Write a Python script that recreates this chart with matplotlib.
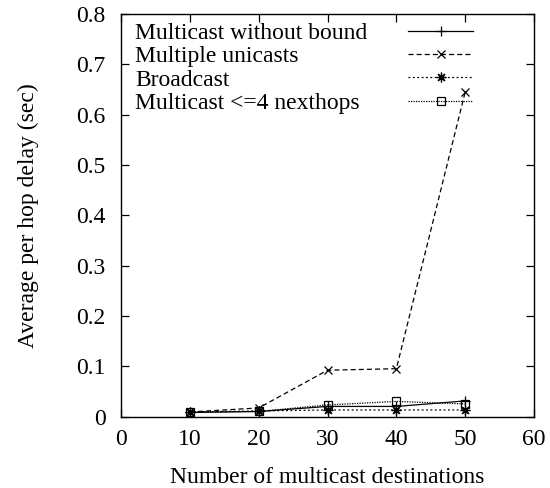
import matplotlib.pyplot as plt
from matplotlib.lines import Line2D

plt.rcParams["font.family"] = ["Liberation Serif", "DejaVu Serif"]
plt.rcParams["font.size"] = 17

# Average per hop delay vs. number of multicast destinations
destinations = [10, 20, 30, 40, 50]
multicast_no_bound = [0.008, 0.010, 0.020, 0.020, 0.031]
multiple_unicasts = [0.009, 0.017, 0.092, 0.095, 0.645]
broadcast = [0.009, 0.011, 0.013, 0.013, 0.013]
multicast_4_nexthops = [0.009, 0.010, 0.023, 0.030, 0.025]

labels = ["Multicast without bound", "Multiple unicasts", "Broadcast",
          "Multicast <=4 nexthops"]

fig = plt.figure(figsize=(5.5, 4.88), dpi=100)
ax = fig.add_axes([0.22, 0.1465, 0.751, 0.825])

lw = 0.9
styles = [
    dict(ls="-", marker="+", ms=7),
    dict(ls=(0, (4, 2.5)), marker="x", ms=6),
    dict(ls=(0, (1.5, 2)), marker=(8, 2, 0), ms=7),
    dict(ls=(0, (1, 1)), marker="s", ms=6, fillstyle="none"),
]
series = [multicast_no_bound, multiple_unicasts, broadcast, multicast_4_nexthops]

handles = []
for ys, st in zip(series, styles):
    h, = ax.plot(destinations, ys, color="black", lw=lw, mew=0.9, **st)
    handles.append(h)

ax.set_xlim(0, 60)
ax.set_ylim(0, 0.8)
ax.set_xticks(range(0, 61, 10))
ax.set_yticks([0, 0.1, 0.2, 0.3, 0.4, 0.5, 0.6, 0.7, 0.8])
ax.set_yticklabels(["0", "0.1", "0.2", "0.3", "0.4", "0.5", "0.6", "0.7", "0.8"])
ax.tick_params(direction="in", length=6, width=0.9, top=True, right=True,
               labelsize=17)
ax.tick_params(axis="x", pad=9)
ax.tick_params(axis="y", pad=11)
for sp in ax.spines.values():
    sp.set_linewidth(1.0)

ax.set_xlabel("Number of multicast destinations", fontsize=17, labelpad=12)
ax.set_ylabel("Average per hop delay (sec)", fontsize=17, labelpad=27)

# gnuplot-style key: labels on the left, samples on the right
blank = [Line2D([], [], color="none") for _ in labels]
text_leg = ax.legend(blank, labels, loc="upper left", bbox_to_anchor=(0.034, 0.979),
                     frameon=False, handlelength=0, handletextpad=0,
                     labelspacing=0.08, borderaxespad=0, borderpad=0, fontsize=17)
ax.add_artist(text_leg)
ax.legend(handles, [" "] * len(handles), loc="upper left",
          bbox_to_anchor=(0.695, 0.979), frameon=False, handlelength=2.75,
          handletextpad=0, labelspacing=0.08, borderaxespad=0, borderpad=0,
          fontsize=17)

fig.savefig("out.png", dpi=100)
